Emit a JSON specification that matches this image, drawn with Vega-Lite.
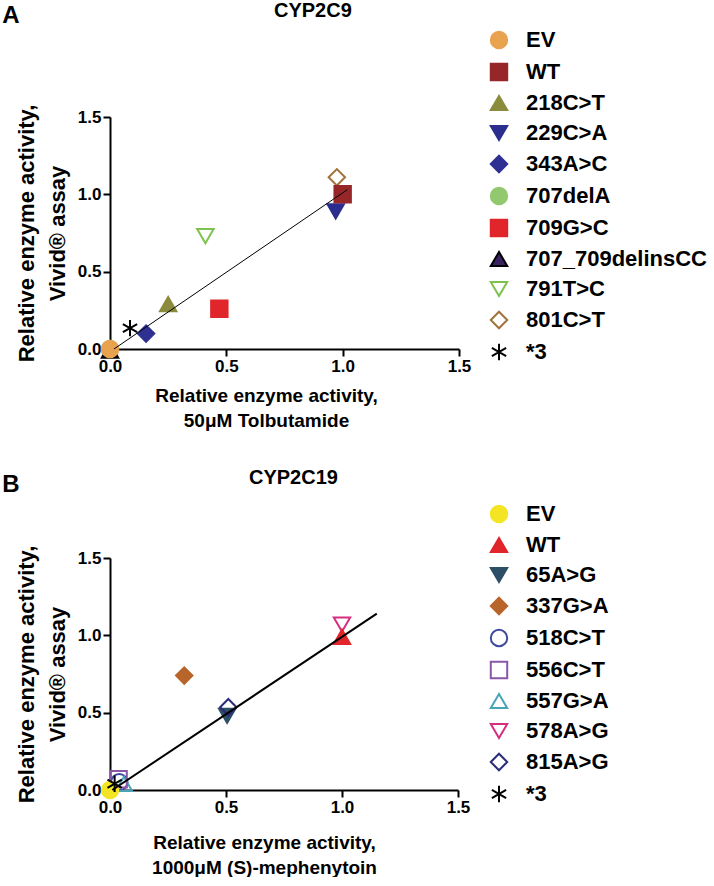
{
  "$schema": "https://vega.github.io/schema/vega-lite/v6.json",
  "padding": {"left": 2, "top": 1, "right": 0, "bottom": 0},
  "background": "white",
  "spacing": 38,
  "resolve": {"scale": {"shape": "independent", "fill": "independent", "stroke": "independent", "x": "independent", "y": "independent"}},
  "config": {
    "font": "Liberation Sans",
    "view": {"stroke": null},
    "axis": {
      "grid": false,
      "domainColor": "black", "domainWidth": 2,
      "tickColor": "black", "tickWidth": 2, "tickSize": 7,
      "labelFont": "Liberation Sans", "labelFontSize": 17, "labelFontWeight": "bold", "labelColor": "black",
      "labelPadding": 2, "labelFlush": false, "labelOverlap": false, "labelBound": false,
      "titleFont": "Liberation Sans", "titleFontSize": 19, "titleFontWeight": "bold", "titleColor": "black"
    },
    "axisX": {"titlePadding": 12, "titleLineHeight": 25},
    "axisY": {"titlePadding": 8, "titleLineHeight": 31, "titleFontSize": 22},
    "legend": {
      "labelFont": "Liberation Sans", "labelFontSize": 22, "labelFontWeight": "bold", "labelColor": "black", "labelLimit": 400,
      "symbolSize": 270, "symbolStrokeWidth": 2, "rowPadding": 6, "labelOffset": 16
    },
    "title": {"font": "Liberation Sans", "fontWeight": "bold", "color": "black"}
  },
  "vconcat": [
    {
      "title": {"text": "A", "fontSize": 24, "anchor": "start", "frame": "bounds", "offset": -27, "dx": -13},
      "vconcat": [
        {
          "width": 349, "height": 232,
          "title": {"text": "CYP2C9", "fontSize": 20, "anchor": "start", "frame": "group", "dx": 164, "offset": 80},
          "layer": [
            {
              "data": {"values": [
                {"variant": "707delA", "x": 0.0, "y": 0.0},
                {"variant": "707_709delinsCC", "x": 0.0, "y": -0.01},
                {"variant": "EV", "x": 0.0, "y": 0.0},
                {"variant": "*3", "x": 0.086, "y": 0.135},
                {"variant": "343A>C", "x": 0.155, "y": 0.10},
                {"variant": "218C>T", "x": 0.25, "y": 0.29},
                {"variant": "709G>C", "x": 0.47, "y": 0.26},
                {"variant": "791T>C", "x": 0.41, "y": 0.73},
                {"variant": "229C>A", "x": 0.97, "y": 0.89},
                {"variant": "801C>T", "x": 0.975, "y": 1.11},
                {"variant": "WT", "x": 1.0, "y": 1.0}
              ]},
              "mark": {"type": "point", "strokeWidth": 2, "size": 270, "opacity": 1, "clip": false},
              "encoding": {
                "x": {"field": "x", "type": "quantitative",
                  "scale": {"domain": [0, 1.5], "nice": false},
                  "axis": {"values": [0, 0.5, 1, 1.5], "format": ".1f", "title": ["Relative enzyme activity,", "50\u03bcM Tolbutamide"], "titleX": 156}},
                "y": {"field": "y", "type": "quantitative",
                  "scale": {"domain": [0, 1.5], "nice": false},
                  "axis": {"values": [0, 0.5, 1, 1.5], "format": ".1f", "title": ["Relative  enzyme activity,", "Vivid\u00ae assay"]}},
                "shape": {"field": "variant", "type": "nominal",
                  "scale": {"domain": ["EV","WT","218C>T","229C>A","343A>C","707delA","709G>C","707_709delinsCC","791T>C","801C>T","*3"],
                    "range": ["circle","square","triangle-up","triangle-down","diamond","circle","square","triangle-up","triangle-down","diamond","M0,-1V1M-0.87,-0.5L0.87,0.5M-0.87,0.5L0.87,-0.5"]},
                  "legend": {"title": null, "orient": "none", "legendX": 378, "legendY": -88}},
                "fill": {"field": "variant", "type": "nominal",
                  "scale": {"domain": ["EV","WT","218C>T","229C>A","343A>C","707delA","709G>C","707_709delinsCC","791T>C","801C>T","*3"],
                    "range": ["#E9A24E","#972629","#8B8B3D","#2B2E8E","#2E3192","#92C96F","#E0262B","#3A2161","transparent","transparent","transparent"]},
                  "legend": {"title": null, "orient": "none", "legendX": 378, "legendY": -88}},
                "stroke": {"field": "variant", "type": "nominal",
                  "scale": {"domain": ["EV","WT","218C>T","229C>A","343A>C","707delA","709G>C","707_709delinsCC","791T>C","801C>T","*3"],
                    "range": ["#E9A24E","#972629","#8B8B3D","#2B2E8E","#2E3192","#92C96F","#E0262B","#000000","#7DC24C","#A0743A","#000000"]},
                  "legend": {"title": null, "orient": "none", "legendX": 378, "legendY": -88}}
              }
            },
            {
              "data": {"values": [{"x": 0.017, "y": 0.0, "x2": 1.02, "y2": 1.03}]},
              "mark": {"type": "rule", "strokeWidth": 1, "color": "black"},
              "encoding": {
                "x": {"field": "x", "type": "quantitative"},
                "y": {"field": "y", "type": "quantitative"},
                "x2": {"field": "x2"},
                "y2": {"field": "y2"}
              }
            }
          ]
        }
      ]
    },
    {
      "title": {"text": "B", "fontSize": 24, "anchor": "start", "frame": "bounds", "offset": -29, "dx": -13},
      "vconcat": [
        {
          "width": 348, "height": 232,
          "title": {"text": "CYP2C19", "fontSize": 20, "anchor": "start", "frame": "group", "dx": 139, "offset": 54},
          "layer": [
            {
              "data": {"values": [
                {"variant": "518C>T", "x": 0.04, "y": 0.05},
                {"variant": "557G>A", "x": 0.06, "y": 0.04},
                {"variant": "556C>T", "x": 0.037, "y": 0.07},
                {"variant": "EV", "x": 0.0, "y": 0.0},
                {"variant": "*3", "x": 0.02, "y": 0.04},
                {"variant": "337G>A", "x": 0.32, "y": 0.74},
                {"variant": "65A>G", "x": 0.505, "y": 0.48},
                {"variant": "815A>G", "x": 0.51, "y": 0.535},
                {"variant": "578A>G", "x": 1.0, "y": 1.07},
                {"variant": "WT", "x": 1.0, "y": 0.99}
              ]},
              "mark": {"type": "point", "strokeWidth": 2, "size": 270, "opacity": 1, "clip": false},
              "encoding": {
                "x": {"field": "x", "type": "quantitative",
                  "scale": {"domain": [0, 1.5], "nice": false},
                  "axis": {"values": [0, 0.5, 1, 1.5], "format": ".1f", "title": ["Relative enzyme activity,", "1000\u03bcM (S)-mephenytoin"], "titleX": 154, "titlePadding": 18}},
                "y": {"field": "y", "type": "quantitative",
                  "scale": {"domain": [0, 1.5], "nice": false},
                  "axis": {"values": [0, 0.5, 1, 1.5], "format": ".1f", "title": ["Relative  enzyme activity,", "Vivid\u00ae assay"]}},
                "shape": {"field": "variant", "type": "nominal",
                  "scale": {"domain": ["EV","WT","65A>G","337G>A","518C>T","556C>T","557G>A","578A>G","815A>G","*3"],
                    "range": ["circle","triangle-up","triangle-down","diamond","circle","square","triangle-up","triangle-down","diamond","M0,-1V1M-0.87,-0.5L0.87,0.5M-0.87,0.5L0.87,-0.5"]},
                  "legend": {"title": null, "orient": "none", "legendX": 378, "legendY": -55}},
                "fill": {"field": "variant", "type": "nominal",
                  "scale": {"domain": ["EV","WT","65A>G","337G>A","518C>T","556C>T","557G>A","578A>G","815A>G","*3"],
                    "range": ["#F4E524","#E0262B","#2D4F66","#B8652B","transparent","transparent","transparent","transparent","transparent","transparent"]},
                  "legend": {"title": null, "orient": "none", "legendX": 378, "legendY": -55}},
                "stroke": {"field": "variant", "type": "nominal",
                  "scale": {"domain": ["EV","WT","65A>G","337G>A","518C>T","556C>T","557G>A","578A>G","815A>G","*3"],
                    "range": ["#F4E524","#E0262B","#2D4F66","#B8652B","#3F4AA0","#8A56A8","#4BA3B8","#D62E7F","#2B2B7C","#000000"]},
                  "legend": {"title": null, "orient": "none", "legendX": 378, "legendY": -55}}
              }
            },
            {
              "data": {"values": [{"x": 0.01, "y": 0.0, "x2": 1.15, "y2": 1.14}]},
              "mark": {"type": "rule", "strokeWidth": 2, "color": "black"},
              "encoding": {
                "x": {"field": "x", "type": "quantitative"},
                "y": {"field": "y", "type": "quantitative"},
                "x2": {"field": "x2"},
                "y2": {"field": "y2"}
              }
            }
          ]
        }
      ]
    }
  ]
}
